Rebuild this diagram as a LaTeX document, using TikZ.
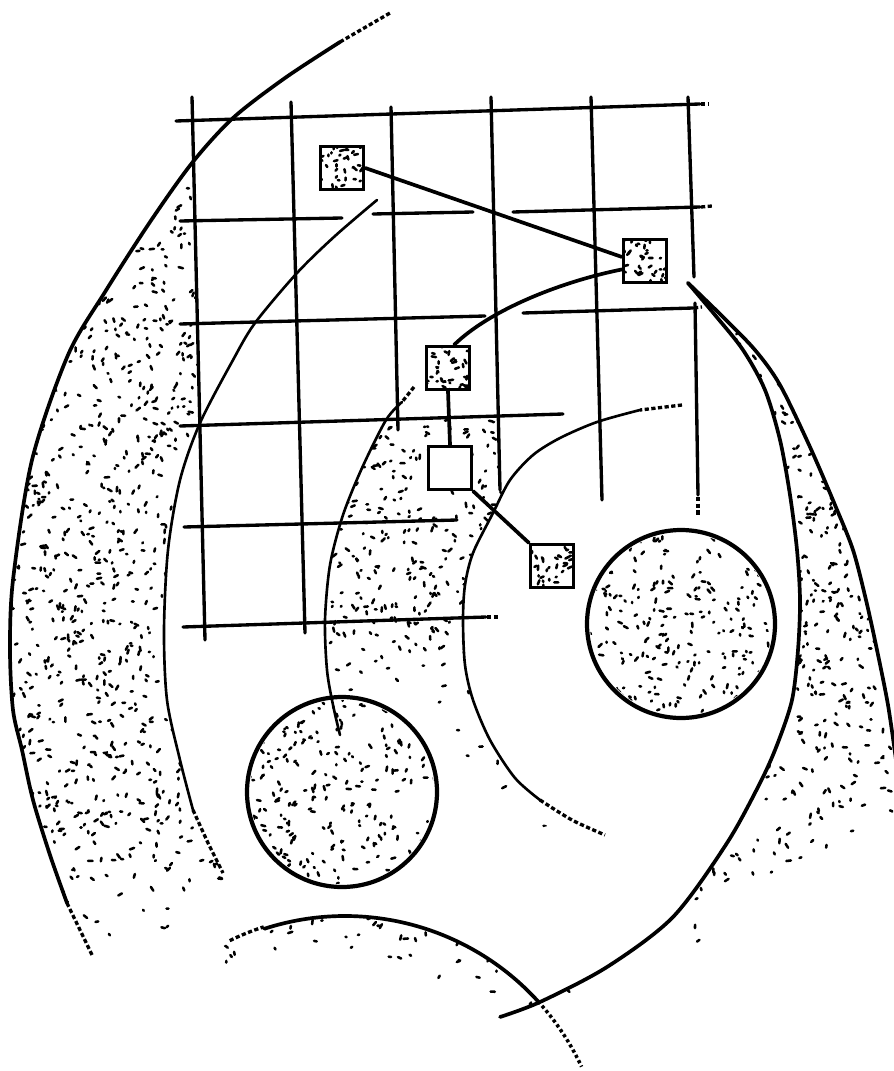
\documentclass[tikz,border=0pt]{standalone}
\newcommand\mystip[6]{%
  \foreach \i in {1,...,#5}{%
    \pgfmathsetmacro\px{#1+rnd*#3}%
    \pgfmathsetmacro\py{#2+rnd*#4}%
    \pgfmathtruncatemacro\keep{rnd<(#6)}%
    \ifnum\keep=1
      \pgfmathsetmacro\ang{rnd*360}%
      \pgfmathsetmacro\len{1.0+rnd*3.6}%
      \draw[stipdot] (\px,\py) -- ++(\ang:\len);%
    \fi
  }%
}
\begin{document}
\begin{tikzpicture}[x=0.02cm,y=-0.02cm,
  gridline/.style={line width=1.9pt,line cap=round},
  heavy/.style={line width=2.1pt,line cap=round},
  thinarc/.style={line width=1.5pt,line cap=round},
  dashend/.style={line width=1.9pt,dash pattern=on 2.4pt off 1.4pt},
  stipdot/.style={line width=1.45pt,line cap=round},
  sqbox/.style={draw,line width=2pt,minimum size=0.86cm,inner sep=0pt,fill=white},
  ringline/.style={line width=2.4pt}]
\pgfmathsetseed{4711}
\fill[white] (0,0) rectangle (893,1071);
\useasboundingbox (0,0) rectangle (893,1071);

% ---------- stippled regions ----------
% left crescent
\begin{scope}
\clip plot[smooth] coordinates {(192,163) (150,222) (105,292) (68,355) (32,460) (13,580) (10,650) (13,710) (22,750) (33,800) (50,855) (67,903) (93,957)} -- (240,900) -- plot[smooth] coordinates {(223,873) (193,810) (180,760) (167,700) (164,630) (168,550) (180,480) (200,423)} -- cycle;
\mystip{5}{160}{245}{800}{1400}{min(1,max(0,(940-\py)/130))}
\end{scope}
% right crescent and its fading tail
\begin{scope}
\clip plot[smooth] coordinates {(688,283) (715,315) (743,350) (765,390) (780,440) (790,495) (797,550) (800,600) (798,650) (792,700) (777,745) (760,783) (727,843) (673,917) (607,967) (540,1002) (500,1017)} -- (500,1071) -- (893,1071) -- (893,740) -- plot[smooth] coordinates {(888,705) (877,650) (866,600) (853,550) (835,505) (810,447) (780,385) (755,350) (722,316) (688,283)} -- cycle;
\mystip{680}{283}{213}{437}{660}{1}
\mystip{480}{720}{413}{351}{1000}{min(1,max(0,(1020-\py)/250-(veclen(\px-332,\py-580)-468)/200))}
\end{scope}
% central region
\begin{scope}
\clip (386,420) -- plot[smooth] coordinates {(386,420) (362,468) (343,515) (330,565) (325,620) (327,670) (333,705) (340,735)} -- (450,850) -- plot[smooth] coordinates {(572,820) (540,800) (515,778) (490,740) (473,700) (465,665) (463,620) (465,585) (473,553) (493,513) (505,492)} -- (498,490) -- (498,417) -- cycle;
\mystip{320}{415}{260}{420}{780}{min(1,max(0,(700-\py)/100)+max(0,0.5-(veclen(\px-681,\py-622)-218)/100))}
\end{scope}
% below the bottom arc
\begin{scope}
\clip (345,1177) circle[radius=261];
\mystip{225}{912}{320}{95}{230}{max(0,0.75-(261-veclen(\px-345,\py-1177))/60)}
\end{scope}
% circles
\fill[white] (342,792) circle[radius=95];
\fill[white] (681,624) circle[radius=94];
\begin{scope}
\clip (342,792) circle[radius=92];
\mystip{250}{700}{184}{184}{250}{1}
\end{scope}
\begin{scope}
\clip (681,624) circle[radius=91];
\mystip{590}{533}{182}{182}{240}{1}
\end{scope}

% ---------- squares ----------
\node[sqbox] (s1) at (342,168) {};
\node[sqbox] (s2) at (645,261) {};
\node[sqbox] (s3) at (448,368) {};
\node[sqbox] (s4) at (450,468) {};
\node[sqbox] (s5) at (552,566) {};
\foreach \s/\cx/\cy in {s1/342/168,s2/645/261,s3/448/368,s5/552/566}{%
  \begin{scope}
  \clip ([shift={(3,-3)}]\s.south west) rectangle ([shift={(-3,3)}]\s.north east);
  \mystip{\cx-22}{\cy-22}{44}{44}{34}{1}
  \end{scope}
}

% ---------- grid ----------
\draw[gridline] (192,97) -- (205,640);
\draw[gridline] (291,102) -- (305,633);
\draw[gridline] (391,107) -- (398,430);
\draw[gridline] (491,97) -- (500,490);
\draw[gridline] (591,97) -- (602,500);
\draw[gridline] (688,97) -- (694,277);
\draw[gridline] (695,303) -- (698,495);
\draw[dashend] (698,497) -- (698,517);
\draw[gridline] (176,121) -- (700,104);
\draw[dashend] (701,104) -- (708,104);
\draw[gridline] (180,221) -- (342,218);
\draw[gridline] (373,214) -- (473,212);
\draw[gridline] (513,212) -- (700,207);
\draw[dashend] (701,207) -- (712,206);
\draw[gridline] (180,324) -- (485,316);
\draw[gridline] (523,313) -- (693,308);
\draw[dashend] (694,308) -- (702,307);
\draw[gridline] (180,426) -- (563,414);
\draw[gridline] (184,527) -- (457,520);
\draw[gridline] (183,627) -- (486,617);
\draw[dashend] (487,617) -- (500,617);

% ---------- arcs ----------
% outer left arc
\draw[dashend] (340,42) -- (390,13);
\draw[heavy] plot[smooth] coordinates {(340,42) (285,78) (233,118) (192,163) (150,222) (105,292) (68,355) (32,460) (13,580) (10,650) (13,710) (22,750) (33,800) (50,855) (67,903)};
\draw[dashend] (67,903) -- (80,930) -- (93,957);
% inner left arc
\draw[thinarc] plot[smooth] coordinates {(377,200) (335,236) (297,273) (255,323) (233,360) (200,423) (180,480) (168,550) (164,630) (167,700) (180,760) (193,810)};
\draw[dashend] (193,810) -- (208,843) -- (223,873);
% middle arc into the left circle
\draw[dashend] (414,387) -- (402,402);
\draw[thinarc] plot[smooth] coordinates {(402,402) (386,420) (362,468) (343,515) (330,565) (325,620) (327,670) (333,705) (340,735)};
% arc round the right circle
\draw[dashend] (682,405) -- (640,410);
\draw[thinarc] plot[smooth] coordinates {(640,410) (597,422) (560,438) (533,455) (510,480) (493,513) (473,553) (465,585) (463,620) (465,665) (473,700) (490,740) (515,778) (540,800)};
\draw[dashend] plot[smooth] coordinates {(540,800) (572,820) (605,835)};
% right crescent
\draw[heavy] plot[smooth] coordinates {(688,283) (715,315) (743,350) (765,390) (780,440) (790,495) (797,550) (800,600) (798,650) (792,700) (777,745) (760,783) (727,843) (673,917) (607,967) (540,1002) (500,1017)};
\draw[heavy] plot[smooth] coordinates {(688,283) (722,316) (755,350) (780,385) (810,447) (835,505) (853,550) (866,600) (877,650) (888,705) (896,760)};
% bottom arc
\draw[dashend] (345,1177) ++(-116:263) arc[start angle=-116, end angle=-108, radius=263];
\draw[heavy] (345,1177) ++(-108:261) arc[start angle=-108, end angle=-42.3, radius=261];
\draw[line width=2pt,dash pattern=on 1.8pt off 1.6pt] (345,1177) ++(-42.3:261) arc[start angle=-42.3, end angle=-25, radius=261];

% ---------- circles ----------
\draw[ringline] (342,792) circle[radius=95];
\draw[ringline] (681,624) circle[radius=94];

% ---------- connectors ----------
\draw[heavy] (s1.east) -- (s2.170);
\draw[heavy] (s2.200) .. controls (560,282) and (490,310) .. (s3.75);
\draw[heavy] (s3.south) -- (s4.north);
\draw[heavy] (s4.south east) -- (s5.north west);
\end{tikzpicture}
\end{document}
